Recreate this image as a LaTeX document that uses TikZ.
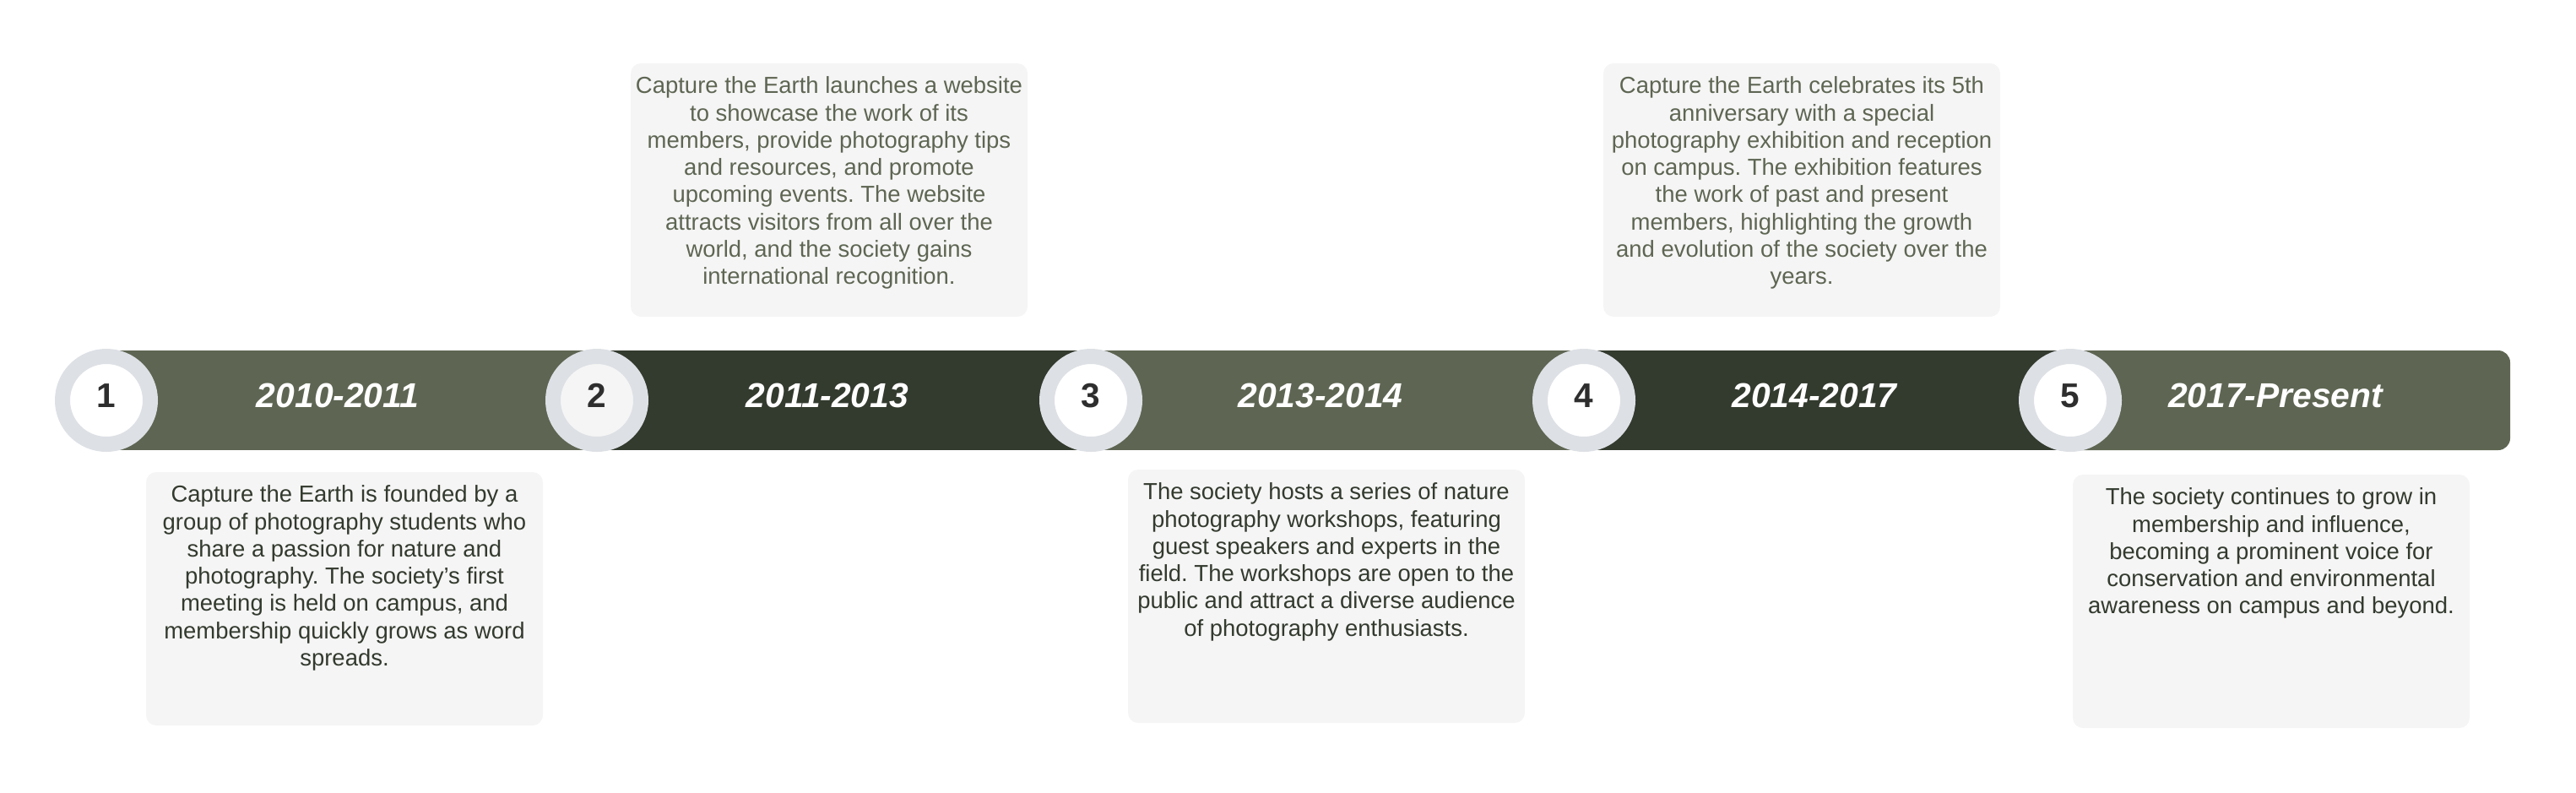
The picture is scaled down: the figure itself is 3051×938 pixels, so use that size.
\documentclass[tikz,border=0pt]{standalone}
\usepackage{fontspec}
\setmainfont{Liberation Sans}
\usetikzlibrary{positioning}
\definecolor{moss}{HTML}{5E6653}
\definecolor{mossdark}{HTML}{333A2E}
\definecolor{ringgray}{HTML}{DDE0E5}
\definecolor{cardgray}{HTML}{F5F5F5}
\definecolor{numink}{HTML}{2E2E2E}
\frenchspacing

\begin{document}
\begin{tikzpicture}[
  x=0.375pt, y=-0.375pt,
  every node/.style={inner sep=0pt, outer sep=0pt},
  stepdot/.style={circle, fill=white, draw=ringgray, line width=6.75pt, minimum size=39pt,
    text depth=4.4pt, font=\fontsize{15.2}{18}\selectfont\bfseries, text=numink},
  period/.style={anchor=base, text=white, font=\fontsize{15.3}{18}\selectfont\bfseries\itshape},
  card/.style={rectangle, rounded corners=4.5pt, fill=cardgray, anchor=north,
    minimum width=176.25pt, minimum height=112.5pt},
  cardtext/.style={align=center, font=\fontsize{10.3}{12.1}\selectfont}
]
  \useasboundingbox (0,0) rectangle (3051,938);

  % Bar
  \fill[moss] (126,415) rectangle (706,533);
  \fill[mossdark] (706,415) rectangle (1290,533);
  \fill[moss] (1290,415) rectangle (1876,533);
  \fill[mossdark] (1876,415) rectangle (2450,533);
  \fill[moss, rounded corners=5.3pt] (2450,415) -- (2973,415) -- (2973,533) -- (2450,533) -- cycle;

  % Steps
  \node[stepdot] (s1) at (126,474) {1};
  \node[stepdot, fill=gray!8] (s2) at (707,474) {2};
  \node[stepdot] (s3) at (1292,474) {3};
  \node[stepdot] (s4) at (1876,474) {4};
  \node[stepdot] (s5) at (2452,474) {5};

  % Periods
  \node[period] (p1) at (400,482) {2010-2011};
  \node[period] (p2) at (980,482) {2011-2013};
  \node[period] (p3) at (1564,482) {2013-2014};
  \node[period] (p4) at (2149,482) {2014-2017};
  \node[period] (p5) at (2695,482) {2017-Present};

  % Cards
  \node[card] (d1) at (408,559) {};
  \node[card] (d2) at (982,75) {};
  \node[card] (d3) at (1571,556) {};
  \node[card] (d4) at (2134,75) {};
  \node[card] (d5) at (2690,562) {};

  \node[cardtext, text=mossdark, below=6pt of d1.north] (t1) {Capture the Earth is founded by a\\
    group of photography students who\\ share a passion for nature and\\
    photography. The society's first\\ meeting is held on campus, and\\
    membership quickly grows as word\\ spreads.};
  \node[cardtext, text=moss, below=6pt of d2.north] (t2) {Capture the Earth launches a website\\
    to showcase the work of its\\ members, provide photography tips\\
    and resources, and promote\\ upcoming events. The website\\
    attracts visitors from all over the\\ world, and the society gains\\
    international recognition.};
  \node[cardtext, text=mossdark, below=6pt of d3.north] (t3) {The society hosts a series of nature\\
    photography workshops, featuring\\ guest speakers and experts in the\\
    field. The workshops are open to the\\ public and attract a diverse audience\\
    of photography enthusiasts.};
  \node[cardtext, text=moss, below=6pt of d4.north] (t4) {Capture the Earth celebrates its 5th\\
    anniversary with a special\\ photography exhibition and reception\\
    on campus. The exhibition features\\ the work of past and present\\
    members, highlighting the growth\\ and evolution of the society over the\\
    years.};
  \node[cardtext, text=mossdark, below=6pt of d5.north] (t5) {The society continues to grow in\\
    membership and influence,\\ becoming a prominent voice for\\
    conservation and environmental\\ awareness on campus and beyond.};
\end{tikzpicture}
\end{document}
